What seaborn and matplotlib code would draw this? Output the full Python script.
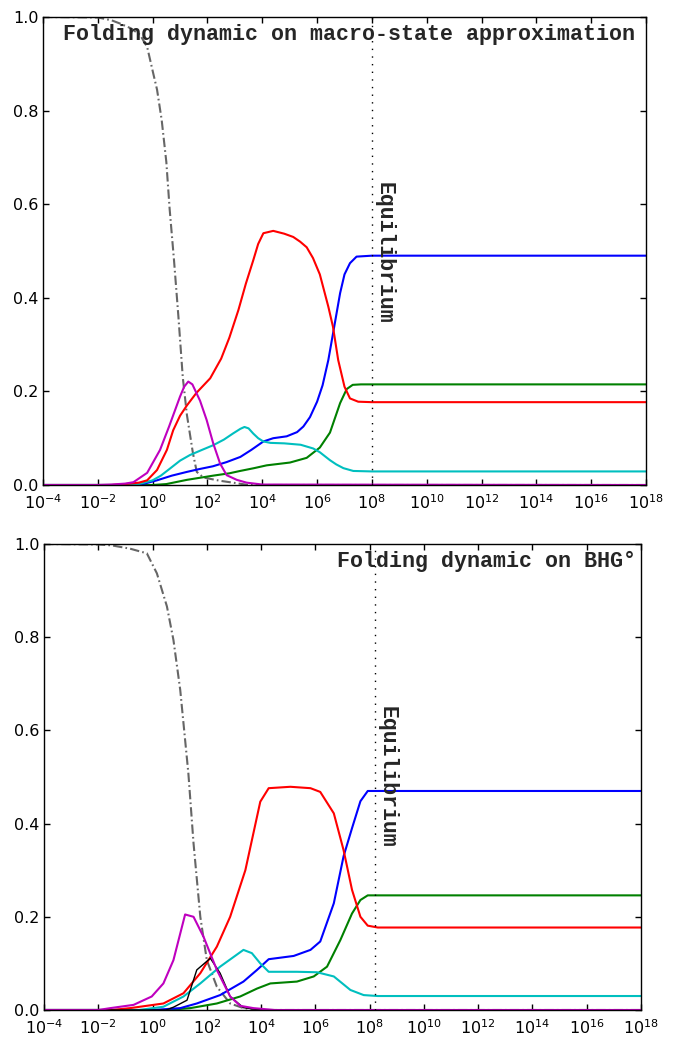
import numpy as np
import matplotlib
matplotlib.use("Agg")
import matplotlib.pyplot as plt
import matplotlib.ticker as mticker
import seaborn as sns

# ---------------- data (log10 time, population) ----------------
# Top panel: macro-state approximation
top_gray_x = [-4, -2, -1.5, -1.19, -0.8, -0.46, -0.2, 0.02, 0.16, 0.33, 0.5, 0.62, 0.78, 0.94, 1.1, 1.25, 1.47, 1.61, 1.85, 2.2, 2.46, 2.93, 3.5, 18]
top_gray_y = [1.0, 0.999, 0.993, 0.986, 0.976, 0.962, 0.936, 0.88, 0.845, 0.78, 0.69, 0.59, 0.48, 0.36, 0.23, 0.15, 0.068, 0.028, 0.016, 0.012, 0.009, 0.005, 0.0, 0.0]

top_magenta_x = [-4, -2, -1.5, -1, -0.7, -0.2, 0.27, 0.6, 1.0, 1.15, 1.3, 1.45, 1.73, 1.97, 2.21, 2.46, 2.7, 3.07, 3.43, 4.0, 18]
top_magenta_y = [0.0, 0.0, 0.001, 0.003, 0.006, 0.026, 0.075, 0.125, 0.189, 0.21, 0.221, 0.215, 0.18, 0.139, 0.089, 0.046, 0.021, 0.011, 0.005, 0.001, 0.0]

top_red_x = [-4, -1.5, -1, -0.5, -0.2, 0.16, 0.52, 0.75, 1.0, 1.25, 1.6, 2.1, 2.5, 2.8, 3.13, 3.4, 3.67, 3.85, 4.04, 4.4, 4.8, 5.13, 5.38, 5.62, 5.85, 6.1, 6.41, 6.58, 6.77, 7.0, 7.2, 7.5, 8, 18]
top_red_y = [0.0, 0.0, 0.002, 0.005, 0.01, 0.032, 0.075, 0.117, 0.148, 0.17, 0.197, 0.228, 0.27, 0.315, 0.374, 0.43, 0.48, 0.515, 0.538, 0.543, 0.537, 0.53, 0.52, 0.508, 0.485, 0.45, 0.381, 0.338, 0.267, 0.21, 0.185, 0.178, 0.177, 0.177]

top_cyan_x = [-4, -1, -0.5, 0, 0.3, 0.63, 1.0, 1.36, 1.8, 2.21, 2.6, 2.93, 3.2, 3.35, 3.5, 3.67, 3.85, 4.04, 4.3, 4.8, 5.4, 5.86, 6.1, 6.47, 6.7, 6.96, 7.32, 8, 18]
top_cyan_y = [0.0, 0.0, 0.002, 0.01, 0.02, 0.035, 0.052, 0.064, 0.075, 0.085, 0.097, 0.11, 0.12, 0.124, 0.121, 0.11, 0.1, 0.093, 0.09, 0.089, 0.086, 0.078, 0.07, 0.053, 0.044, 0.036, 0.03, 0.029, 0.029]

top_blue_x = [-4, -1, -0.3, 0.16, 0.7, 1.25, 1.7, 2.2, 2.7, 3.2, 3.6, 4.04, 4.4, 4.89, 5.27, 5.5, 5.74, 6.0, 6.2, 6.41, 6.6, 6.84, 7.0, 7.2, 7.44, 8, 18]
top_blue_y = [0.0, 0.0, 0.003, 0.01, 0.02, 0.028, 0.034, 0.04, 0.049, 0.06, 0.075, 0.093, 0.1, 0.104, 0.113, 0.125, 0.145, 0.178, 0.213, 0.267, 0.33, 0.41, 0.45, 0.474, 0.488, 0.49, 0.49]

top_green_x = [-4, 0.0, 0.5, 1.0, 1.25, 2.21, 2.8, 3.19, 3.7, 4.16, 5.01, 5.62, 6.1, 6.47, 6.84, 7.08, 7.3, 7.6, 18]
top_green_y = [0.0, 0.0, 0.002, 0.008, 0.011, 0.02, 0.025, 0.03, 0.036, 0.042, 0.048, 0.058, 0.08, 0.112, 0.175, 0.205, 0.214, 0.215, 0.215]

# Bottom panel: BHG°
bot_gray_x = [-4, -2, -1.5, -0.83, -0.21, 0.16, 0.53, 0.77, 1.02, 1.32, 1.51, 1.76, 2.0, 2.37, 2.86, 3.35, 4, 18]
bot_gray_y = [1.0, 0.999, 0.997, 0.99, 0.98, 0.937, 0.866, 0.794, 0.687, 0.508, 0.358, 0.2, 0.107, 0.05, 0.014, 0.004, 0.0, 0.0]

bot_magenta_x = [-4, -2, -1.56, -0.7, -0.03, 0.4, 0.77, 1.2, 1.51, 1.88, 2.37, 2.86, 3.23, 3.72, 4.5, 18]
bot_magenta_y = [0.0, 0.0, 0.004, 0.011, 0.029, 0.057, 0.107, 0.205, 0.2, 0.157, 0.086, 0.029, 0.009, 0.004, 0.0, 0.0]

bot_black_x = [-4, 0.5, 0.77, 1.27, 1.63, 2.13, 2.49, 2.86, 3.35, 4, 18]
bot_black_y = [0.0, 0.0, 0.006, 0.021, 0.086, 0.111, 0.079, 0.029, 0.005, 0.0, 0.0]

bot_red_x = [-4, -1.5, -0.83, 0.4, 1.14, 1.76, 2.37, 2.86, 3.42, 3.97, 4.28, 5.08, 5.82, 6.18, 6.68, 7.04, 7.35, 7.66, 7.93, 8.3, 18]
bot_red_y = [0.0, 0.0, 0.004, 0.014, 0.036, 0.079, 0.136, 0.2, 0.3, 0.447, 0.476, 0.479, 0.476, 0.468, 0.422, 0.343, 0.258, 0.2, 0.181, 0.177, 0.177]

bot_blue_x = [-4, 0, 1.02, 1.63, 2.49, 3.35, 3.85, 4.28, 5.2, 5.82, 6.18, 6.68, 7.04, 7.35, 7.66, 7.93, 18]
bot_blue_y = [0.0, 0.0, 0.004, 0.014, 0.032, 0.061, 0.086, 0.109, 0.116, 0.129, 0.147, 0.229, 0.33, 0.39, 0.448, 0.47, 0.47]

bot_green_x = [-4, 0.5, 1.39, 2.37, 3.23, 3.85, 4.34, 5.32, 5.94, 6.43, 6.92, 7.35, 7.66, 7.93, 18]
bot_green_y = [0.0, 0.0, 0.004, 0.014, 0.029, 0.046, 0.057, 0.061, 0.072, 0.093, 0.15, 0.207, 0.236, 0.246, 0.246]

bot_cyan_x = [-4, -0.5, 0.4, 1.14, 1.76, 2.49, 3.35, 3.66, 3.97, 4.28, 5.32, 6.06, 6.68, 7.29, 7.78, 8.3, 18]
bot_cyan_y = [0.0, 0.0, 0.007, 0.029, 0.057, 0.093, 0.129, 0.122, 0.1, 0.082, 0.082, 0.081, 0.072, 0.043, 0.032, 0.03, 0.03]

top_equilibrium = 8.0
bot_equilibrium = 8.2

top_title = "Folding dynamic on macro-state approximation"
bot_title = "Folding dynamic on BHG°"
eq_label = "Equilibrium"

x_tick_exps = list(range(-4, 19, 2))
y_ticks = [0.0, 0.2, 0.4, 0.6, 0.8, 1.0]

# ---------------- style ----------------
sns.set_theme(style="white")
plt.rcParams.update({
    "font.family": ["DejaVu Sans"],
    "axes.edgecolor": "black",
    "axes.linewidth": 1.0,
    "xtick.direction": "in",
    "ytick.direction": "in",
    "xtick.top": True,
    "ytick.right": True,
    "xtick.bottom": True,
    "ytick.left": True,
    "xtick.major.size": 4,
    "ytick.major.size": 4,
    "xtick.major.width": 1.0,
    "ytick.major.width": 1.0,
    "xtick.color": "black",
    "ytick.color": "black",
    "xtick.labelsize": 11.5,
    "ytick.labelsize": 11.5,
    "xtick.major.pad": 6,
    "ytick.major.pad": 3,
})

GRAY = "#666666"
RED = "#ff0000"
BLUE = "#0000ff"
GREEN = "#008000"
CYAN = "#00bfbf"
MAGENTA = "#bf00bf"
BLACK = "#000000"

W, H = 678, 1037
fig = plt.figure(figsize=(W / 100, H / 100), dpi=100)
ax1 = fig.add_axes([43 / W, 1 - 485 / H, (646 - 43) / W, (485 - 17) / H])
ax2 = fig.add_axes([44 / W, 1 - 1010 / H, (641 - 44) / W, (1010 - 544) / H])

dashdot = (0, (4.5, 1.5, 0.8, 1.5))


def draw(ax, x, y, color, lw=1.5, ls="-"):
    t = 10.0 ** np.asarray(x, dtype=float)
    sns.lineplot(x=t, y=np.asarray(y, dtype=float), ax=ax, color=color,
                 linewidth=lw, linestyle=ls, estimator=None, sort=False,
                 legend=False)


# top panel
draw(ax1, top_gray_x, top_gray_y, GRAY, ls=dashdot)
draw(ax1, top_green_x, top_green_y, GREEN)
draw(ax1, top_blue_x, top_blue_y, BLUE)
draw(ax1, top_cyan_x, top_cyan_y, CYAN)
draw(ax1, top_red_x, top_red_y, RED)
draw(ax1, top_magenta_x, top_magenta_y, MAGENTA)

# bottom panel
draw(ax2, bot_gray_x, bot_gray_y, GRAY, ls=dashdot)
draw(ax2, bot_green_x, bot_green_y, GREEN)
draw(ax2, bot_blue_x, bot_blue_y, BLUE)
draw(ax2, bot_cyan_x, bot_cyan_y, CYAN)
draw(ax2, bot_red_x, bot_red_y, RED)
draw(ax2, bot_black_x, bot_black_y, BLACK, lw=1.0)
draw(ax2, bot_magenta_x, bot_magenta_y, MAGENTA)

for ax, eq, title, tx, ty in ((ax1, top_equilibrium, top_title, 0.982, 0.647),
                              (ax2, bot_equilibrium, bot_title, 0.992, 0.652)):
    ax.set_xscale("log")
    ax.set_xlim(10.0 ** -4, 10.0 ** 18)
    ax.set_ylim(0, 1)
    ax.xaxis.set_major_locator(mticker.FixedLocator([10.0 ** e for e in x_tick_exps]))
    ax.xaxis.set_major_formatter(mticker.LogFormatterSciNotation())
    ax.xaxis.set_minor_locator(mticker.NullLocator())
    ax.set_yticks(y_ticks)
    ax.yaxis.set_major_formatter(mticker.FormatStrFormatter("%.1f"))
    ax.set_xlabel("")
    ax.set_ylabel("")
    for s in ax.spines.values():
        s.set_visible(True)
        s.set_color("black")
    ax.axvline(10.0 ** eq, color="black", linewidth=1.0, linestyle=(0, (1, 4.5)))
    ax.text(10.0 ** (eq + 0.05), ty, eq_label, rotation=270, ha="left", va="top",
            fontfamily="Liberation Mono", fontweight="bold", fontsize=15.5)
    ax.text(tx, 0.985, title, transform=ax.transAxes, ha="right", va="top",
            fontfamily="Liberation Mono", fontweight="bold", fontsize=15.6)

fig.savefig("out.png", dpi=100, facecolor="white")
